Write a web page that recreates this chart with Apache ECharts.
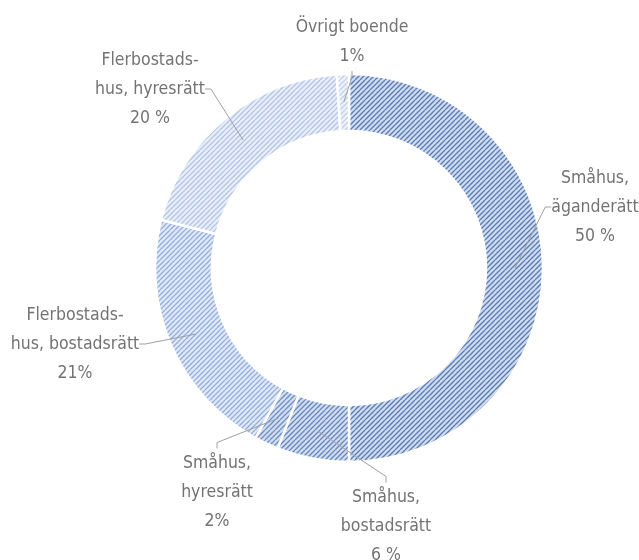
<!DOCTYPE html>
<html>
<head>
<meta charset="utf-8">
<script src="https://cdn.jsdelivr.net/npm/echarts@6/dist/echarts.min.js"></script>
<style>
  html, body { margin: 0; padding: 0; background: #ffffff; }
  #chart { width: 639px; height: 560px; }
</style>
</head>
<body>
<div id="chart"></div>
<script>
// Boendeform: andel per kategori (procent)
const categories = [
  'Småhus,\näganderätt',
  'Småhus,\nbostadsrätt',
  'Småhus,\nhyresrätt',
  'Flerbostads-\nhus, bostadsrätt',
  'Flerbostads-\nhus, hyresrätt',
  'Övrigt boende'
];
const shares = [50, 6, 2, 21, 20, 1];
const shareSuffix = [' %', ' %', '%', '%', ' %', '%'];

// Hatch colours per slice: [background, line]
const hatchColors = [
  ['#cfdbee', '#5a7bb3'],
  ['#d1dcef', '#6686be'],
  ['#d2ddf0', '#7090c6'],
  ['#e0e8f6', '#94afdf'],
  ['#e9eef8', '#b3c5e6'],
  ['#eef2f9', '#c2d0ea']
];

// Label block centres around the ring
const labelCenters = [
  [595, 207],
  [386, 526],
  [217, 492],
  [75, 344],
  [150, 89],
  [352, 42]
];

const CX = 349, CY = 268, R_IN = 137, R_OUT = 194, R_ANCHOR = 166;
const FONT = "'DejaVu Sans Condensed', 'Liberation Sans Narrow', sans-serif";

// Diagonal "/" hatch tile
function hatchTile(bg, line) {
  const size = 10;
  const c = document.createElement('canvas');
  c.width = size; c.height = size;
  const g = c.getContext('2d');
  g.fillStyle = bg;
  g.fillRect(0, 0, size, size);
  g.strokeStyle = line;
  g.lineWidth = 1.25;
  for (let k = -10; k <= 20; k += 5) {
    g.beginPath();
    g.moveTo(k, size);
    g.lineTo(k + size, 0);
    g.stroke();
  }
  return c;
}

const ringData = categories.map((name, i) => ({
  name: name,
  value: shares[i],
  itemStyle: {
    color: { image: hatchTile(hatchColors[i][0], hatchColors[i][1]), repeat: 'repeat' }
  }
}));

const labelData = categories.map((name, i) => ({ name: name, value: shares[i] }));

const chart = echarts.init(document.getElementById('chart'), null, { renderer: 'canvas' });

chart.setOption({
  backgroundColor: '#ffffff',
  animation: false,
  series: [
    {
      // the hatched ring
      type: 'pie',
      z: 2,
      center: [CX, CY],
      radius: [R_IN, R_OUT],
      startAngle: 90,
      clockwise: true,
      silent: true,
      itemStyle: { borderColor: '#ffffff', borderWidth: 2.5 },
      label: { show: false },
      labelLine: { show: false },
      data: ringData
    },
    {
      // transparent twin carrying the labels; its leader lines start inside the ring
      type: 'pie',
      z: 5,
      center: [CX, CY],
      radius: [0, R_ANCHOR],
      startAngle: 90,
      clockwise: true,
      silent: true,
      avoidLabelOverlap: false,
      itemStyle: { color: 'rgba(0,0,0,0)', borderWidth: 0 },
      label: {
        show: true,
        position: 'outside',
        color: '#737373',
        fontFamily: FONT,
        fontSize: 17.5,
        lineHeight: 29,
        align: 'center',
        formatter: (p) => p.name + '\n' + p.value + shareSuffix[p.dataIndex]
      },
      labelLine: {
        show: true,
        length: 8,
        length2: 6,
        lineStyle: { color: '#a0a0a0', width: 1 }
      },
      labelLayout: (params) => {
        const [lx, ly] = labelCenters[params.dataIndex];
        return { x: lx, y: ly, align: 'center', verticalAlign: 'middle' };
      },
      data: labelData
    }
  ]
});
</script>
</body>
</html>
